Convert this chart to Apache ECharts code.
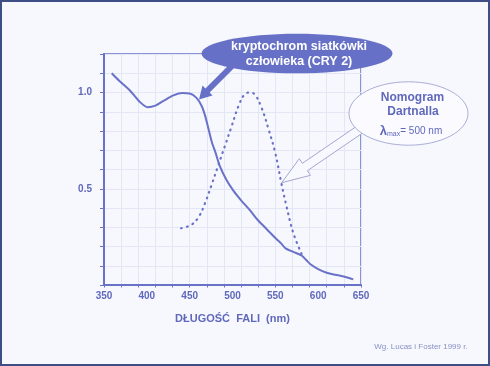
<!DOCTYPE html>
<html>
<head>
<meta charset="utf-8">
<script src="https://cdn.jsdelivr.net/npm/echarts@6/dist/echarts.min.js"></script>
<style>
  html, body { margin: 0; padding: 0; background: #f7f8fd; }
  #chart { position: absolute; left: 0; top: 0; width: 490px; height: 366px; }
  #frame { position: absolute; left: 0; top: 0; width: 490px; height: 366px; box-sizing: border-box; border: 2px solid #3f4f86; pointer-events: none; }
</style>
</head>
<body>
<div id="chart"></div>
<div id="frame"></div>
<script>
// ---- data ----
const cryWavelength = [359, 368, 380, 391, 401, 410, 419, 431, 442, 450, 458, 464, 468, 472, 476, 480, 485, 493, 501, 510, 520, 530, 540, 551, 557, 562, 571, 581, 586, 591, 600, 610, 620, 631, 641];
const cryValues     = [1.10, 1.06, 1.012, 0.955, 0.924, 0.932, 0.955, 0.985, 0.997, 0.995, 0.972, 0.93, 0.88, 0.81, 0.74, 0.69, 0.62, 0.545, 0.49, 0.44, 0.39, 0.335, 0.29, 0.24, 0.215, 0.19, 0.172, 0.152, 0.13, 0.108, 0.083, 0.064, 0.053, 0.043, 0.029];

const nomoWavelength = [440, 452, 461, 468, 476, 483, 491, 499, 507, 514, 520, 526, 534, 542, 550, 557, 563, 571, 581];
const nomoValues     = [0.295, 0.313, 0.357, 0.426, 0.525, 0.617, 0.72, 0.825, 0.93, 0.99, 1.0, 0.99, 0.92, 0.81, 0.685, 0.53, 0.41, 0.27, 0.158];

const xTickValues  = [350, 370, 390, 410, 430, 450, 470, 490, 510, 530, 550, 570, 590, 610, 630, 650];
const xLabelValues = [350, 400, 450, 500, 550, 600, 650];
const yLabelValues = [0.5, 1.0];

const xAxisTitle = 'DŁUGOŚĆ  FALI  (nm)';
const cryLabel = ['kryptochrom siatkówki', 'człowieka (CRY 2)'];
const nomoLabel = ['Nomogram', 'Dartnalla'];
const credit = 'Wg. Lucas i Foster 1999 r.';

const pair = (xs, ys) => xs.map((x, i) => [x, ys[i]]);

const blue = '#6a72c8';
const txt = '#6068bc';

const chart = echarts.init(document.getElementById('chart'), null, { renderer: 'canvas' });
chart.setOption({
  backgroundColor: '#f7f8fd',
  animation: false,
  grid: { left: 104, right: 129, top: 54, bottom: 81, show: true, borderColor: blue, borderWidth: 1.5, backgroundColor: 'transparent' },
  xAxis: {
    type: 'value', min: 350, max: 650,
    name: xAxisTitle, nameLocation: 'middle', nameGap: 28,
    nameTextStyle: { color: txt, fontFamily: 'Liberation Sans', fontWeight: 'bold', fontSize: 11 },
    axisLine: { lineStyle: { color: blue, width: 2 } },
    axisTick: { show: true, length: 2.5, customValues: xTickValues, lineStyle: { color: blue, width: 1 } },
    axisLabel: { customValues: xLabelValues, color: txt, fontFamily: 'Liberation Sans', fontWeight: 'bold', fontSize: 10, margin: 6 },
    splitLine: { show: true, lineStyle: { color: '#e3e6f5', width: 1 } }
  },
  yAxis: {
    type: 'value', min: 0, max: 1.2, interval: 0.1,
    axisLine: { show: true, lineStyle: { color: blue, width: 2 } },
    axisTick: { show: true, length: 4, lineStyle: { color: blue, width: 1 } },
    axisLabel: { customValues: yLabelValues, formatter: v => v.toFixed(1), color: txt, fontFamily: 'Liberation Sans', fontWeight: 'bold', fontSize: 10, margin: 12 },
    splitLine: { show: true, lineStyle: { color: '#e3e6f5', width: 1 } }
  },
  series: [
    { type: 'line', data: pair(cryWavelength, cryValues), smooth: 0.3, symbol: 'none',
      lineStyle: { color: blue, width: 2 } },
    { type: 'line', data: pair(nomoWavelength, nomoValues), smooth: 0.4, symbol: 'none',
      lineStyle: { color: blue, width: 2.2, type: [0.8, 5.2], cap: 'round' } }
  ],
  graphic: [
    // filled arrow to CRY2 curve
    { type: 'polygon', z: 10, shape: { points: [[229.9, 63.9], [205.4, 88.4], [202.5, 85.5], [199, 99.5], [212.5, 95.5], [209.6, 92.6], [234.1, 68.1]] },
      style: { fill: '#6670c6' } },
    { type: 'ellipse', z: 11, shape: { cx: 297, cy: 53.5, rx: 95.5, ry: 19.8 }, style: { fill: '#6670c6' } },
    { type: 'text', z: 12, x: 299, y: 54, style: { text: cryLabel.join('\n'), fill: '#ffffff', font: 'bold 12.5px "Liberation Sans"', align: 'center', verticalAlign: 'middle', lineHeight: 14.5 } },
    // hollow arrow to nomogram curve
    { type: 'polygon', z: 10, shape: { points: [[359.5, 124.3], [302.4, 163.3], [299.3, 158.7], [281.7, 182.7], [310.5, 175.3], [307.4, 170.7], [364.5, 131.7]] },
      style: { fill: '#f8f9fe', stroke: '#a2a8d2', lineWidth: 1 } },
    { type: 'ellipse', z: 11, shape: { cx: 408.5, cy: 113.5, rx: 59.5, ry: 31.7 }, style: { fill: '#fbfbff', stroke: '#a8aed6', lineWidth: 1 } },
    { type: 'text', z: 12, x: 412.5, y: 97.5, style: { text: nomoLabel[0], fill: txt, font: 'bold 12px "Liberation Sans"', align: 'center', verticalAlign: 'middle' } },
    { type: 'text', z: 12, x: 413, y: 112, style: { text: nomoLabel[1], fill: txt, font: 'bold 12px "Liberation Sans"', align: 'center', verticalAlign: 'middle' } },
    { type: 'text', z: 12, x: 411, y: 131, style: {
        text: '{l|λ}{s|max}{t|= 500 nm}', align: 'center', verticalAlign: 'middle',
        rich: {
          l: { fill: txt, fontFamily: 'Liberation Sans', fontWeight: 'bold', fontSize: 13, verticalAlign: 'middle' },
          s: { fill: txt, fontFamily: 'Liberation Sans', fontSize: 7, padding: [7, 0, 0, 0], verticalAlign: 'middle' },
          t: { fill: txt, fontFamily: 'Liberation Sans', fontSize: 10, verticalAlign: 'middle' }
        } } },
    { type: 'text', z: 12, x: 421, y: 347, style: { text: credit, fill: '#8890c4', font: '8px "Liberation Sans"', align: 'center', verticalAlign: 'middle' } }
  ]
});
</script>
</body>
</html>
